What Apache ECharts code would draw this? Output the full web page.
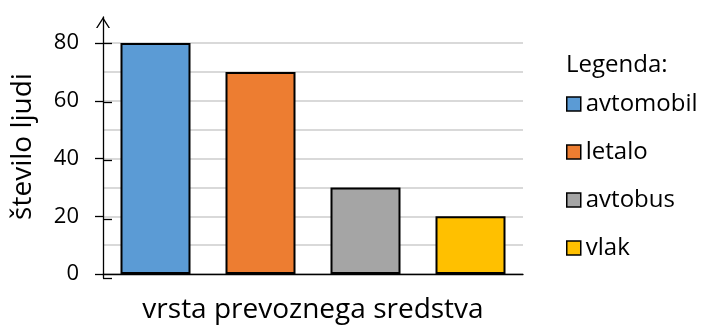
<!DOCTYPE html>
<html>
<head>
<meta charset="utf-8">
<script src="https://cdn.jsdelivr.net/npm/echarts@6/dist/echarts.min.js"></script>
<style>html,body{margin:0;padding:0;background:#fff}#c{width:702px;height:329px}</style>
</head>
<body>
<div id="c"></div>
<script>
const categories = ['avtomobil', 'letalo', 'avtobus', 'vlak'];
const values = [80, 70, 30, 20];
const colors = ['#5B9BD5', '#ED7D31', '#A5A5A5', '#FFC000'];
const yTicks = [0, 20, 40, 60, 80];
const xName = 'vrsta prevoznega sredstva';
const yName = 'število ljudi';
const legendTitle = 'Legenda:';

const FONT = 'Open Sans';
const chart = echarts.init(document.getElementById('c'), null, {renderer: 'canvas'});

const series = categories.map((c, i) => ({
  name: c,
  type: 'bar',
  stack: 'all',
  xAxisIndex: 0,
  yAxisIndex: 0,
  barWidth: 70,
  itemStyle: {color: colors[i], borderColor: '#000', borderWidth: 2},
  data: categories.map((_, j) => (j === i ? values[i] : null))
}));

const yMin = yTicks[0], yMax = yTicks[yTicks.length - 1];

chart.setOption({
  animation: false,
  textStyle: {fontFamily: FONT},
  title: {
    text: legendTitle, left: 566, top: 53, padding: 0,
    textStyle: {fontFamily: FONT, fontSize: 24, fontWeight: 'normal', color: '#000'}
  },
  legend: {
    orient: 'vertical', left: 566, top: 91, padding: 0,
    itemWidth: 14, itemHeight: 14, itemGap: 22,
    icon: 'rect',
    itemStyle: {borderColor: '#000', borderWidth: 1.5},
    textStyle: {fontFamily: FONT, fontSize: 24, color: '#000', lineHeight: 26},
    data: categories
  },
  grid: [
    {left: 103, right: 179, top: 43, bottom: 51},
    {left: 103, right: 179, top: 17, bottom: 51},
    {left: 103, right: 179, top: 43, bottom: 51}
  ],
  xAxis: [
    {
      type: 'category', gridIndex: 0, data: categories,
      name: xName, nameLocation: 'middle', nameGap: 22,
      nameTextStyle: {fontFamily: FONT, fontSize: 28, color: '#000'},
      axisLine: {show: true, lineStyle: {color: '#000', width: 1.3}},
      axisTick: {show: false}, axisLabel: {show: false}, splitLine: {show: false}
    },
    {type: 'category', gridIndex: 1, data: categories, show: false},
    {type: 'category', gridIndex: 2, data: categories, show: false}
  ],
  yAxis: [
    {
      type: 'value', gridIndex: 0, position: 'left', min: yMin, max: yMax, interval: 20,
      name: yName, nameLocation: 'middle', nameGap: 66,
      nameTextStyle: {fontFamily: FONT, fontSize: 28, color: '#000', padding: [0, 0, 0, 24]},
      axisLine: {show: false},
      axisTick: {show: true, length: 8, lineStyle: {color: '#000', width: 1.3}},
      axisLabel: {fontFamily: FONT, fontSize: 22, color: '#000', margin: 24},
      splitLine: {show: true, lineStyle: {color: '#D9D9D9', width: 2}},
      minorTick: {show: false, splitNumber: 2},
      minorSplitLine: {show: true, lineStyle: {color: '#D9D9D9', width: 2}}
    },
    {
      type: 'value', gridIndex: 1, position: 'left', min: 0, max: 1,
      axisLine: {
        show: true, lineStyle: {color: '#000', width: 1.3},
        symbol: ['none', 'path://M0,11 L7,0 L14,11 L12.5,11 L7,2.4 L1.5,11 Z'],
        symbolSize: [14, 11], symbolOffset: [0, -5.5]
      },
      axisTick: {show: false}, axisLabel: {show: false}, splitLine: {show: false}
    },
    {
      type: 'value', gridIndex: 2, position: 'left', min: yMin, max: yMax, interval: 20,
      axisLine: {show: false},
      axisTick: {show: true, inside: true, length: 9, lineStyle: {color: '#000', width: 1.3}},
      axisLabel: {show: false}, splitLine: {show: false}
    }
  ],
  series: series
});
</script>
</body>
</html>
